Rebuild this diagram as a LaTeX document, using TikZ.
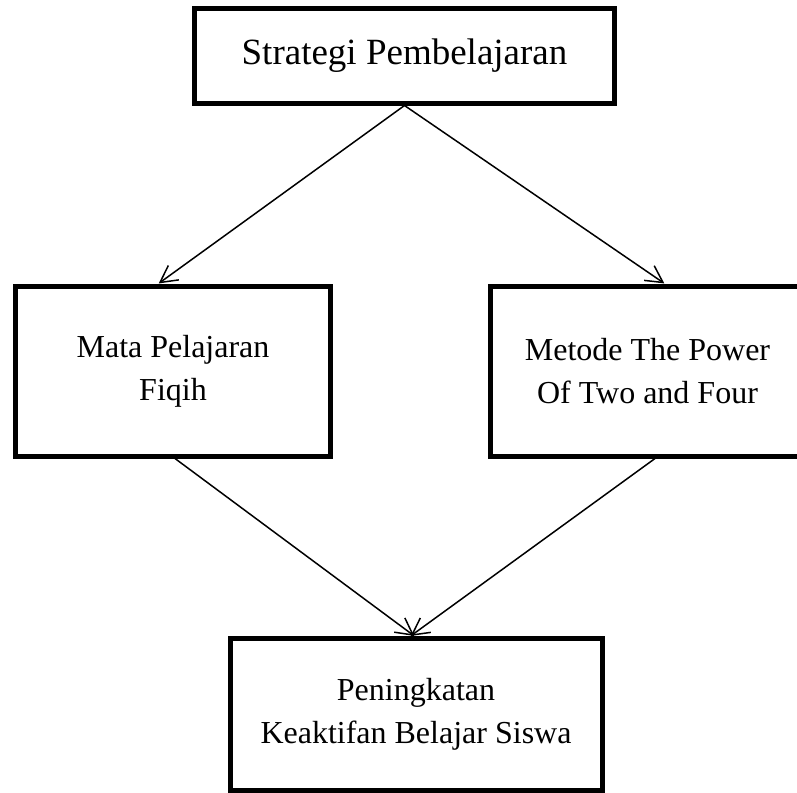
\documentclass[tikz,border=0pt]{standalone}
\usepackage{fontspec}
\setmainfont{Liberation Serif}
\usetikzlibrary{calc}
\begin{document}
\begin{tikzpicture}[x=1pt,y=-1pt,
  box/.style={draw, line width=5pt, rectangle, inner sep=0pt, align=center},
  conn/.style={line width=1.5pt, line join=miter},
  midfont/.style={font=\fontsize{32}{43}\selectfont}]
\useasboundingbox (0,0) rectangle (797,792);
\fill[white] (0,0) rectangle (797,792);
\node[box, minimum width=419.5pt, minimum height=94pt, font=\fontsize{37}{44}\selectfont] (top) at (404.5,56) {Strategi Pembelajaran};
\node[box, midfont, minimum width=315pt, minimum height=170pt] (left) at (173,371) {Mata Pelajaran\\Fiqih};
\node[box, midfont, minimum width=314pt, minimum height=170pt] (right) at (647.5,371) {Metode The Power\\Of Two and Four};
\node[box, midfont, minimum width=372pt, minimum height=151.5pt] (bottom) at (416,714.25) {Peningkatan\\Keaktifan Belajar Siswa};
% tips
\coordinate (t1) at ([xshift=-13pt,yshift=1pt]left.north);
\coordinate (t2) at ([xshift=15.5pt,yshift=1pt]right.north);
\coordinate (t3) at ([xshift=-3pt,yshift=1pt]bottom.north);
\coordinate (t4) at ([xshift=-4pt,yshift=1pt]bottom.north);
\coordinate (s1) at ([xshift=2pt]left.south);
\coordinate (s2) at ([xshift=7.5pt]right.south);
\draw[conn] (top.south) -- (t1);
\draw[conn] ($(t1)!19pt!28:(top.south)$) -- (t1) -- ($(t1)!19pt!-28:(top.south)$);
\draw[conn] (top.south) -- (t2);
\draw[conn] ($(t2)!19pt!28:(top.south)$) -- (t2) -- ($(t2)!19pt!-28:(top.south)$);
\draw[conn] (s1) -- (t3);
\draw[conn] ($(t3)!19pt!28:(s1)$) -- (t3) -- ($(t3)!19pt!-28:(s1)$);
\draw[conn] (s2) -- (t4);
\draw[conn] ($(t4)!19pt!28:(s2)$) -- (t4) -- ($(t4)!19pt!-28:(s2)$);
\end{tikzpicture}
\end{document}
